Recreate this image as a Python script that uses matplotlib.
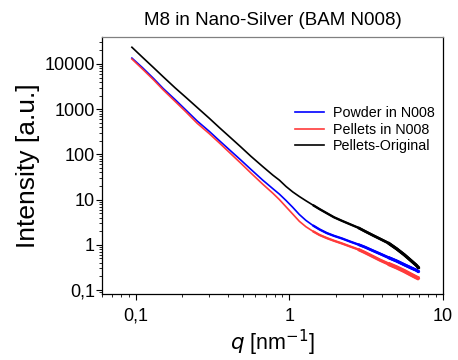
import matplotlib
matplotlib.use("Agg")
import matplotlib.pyplot as plt
from matplotlib.ticker import FixedLocator, LogLocator, NullFormatter

plt.rcParams['font.family'] = ['Liberation Sans', 'DejaVu Sans']

# scattering vector q [nm^-1] (same grid for all three curves)
q = [0.094, 0.11, 0.13, 0.15, 0.18, 0.21, 0.25, 0.30, 0.35, 0.41,
     0.48, 0.56, 0.67, 0.78, 0.86, 0.95, 1.05, 1.16, 1.28, 1.42,
     1.57, 1.75, 1.95, 2.2, 2.5, 2.8, 3.1, 3.5, 3.9, 4.4,
     5.0, 5.6, 6.2, 6.7, 7.0]

powder_n008 = [13490, 8318, 4786, 2884, 1622, 977, 550, 324, 200, 123,
               75.9, 46.8, 26.9, 17.4, 13.2, 9.55, 6.76, 4.68, 3.47, 2.69,
               2.19, 1.82, 1.58, 1.38, 1.17, 1.02, 0.891, 0.741, 0.631, 0.525,
               0.437, 0.363, 0.309, 0.275, 0.251]

pellets_n008 = [12880, 7762, 4467, 2692, 1479, 891, 490, 288, 178, 107,
                64.6, 38.9, 21.9, 13.8, 10.0, 6.92, 4.79, 3.31, 2.51, 2.00,
                1.65, 1.41, 1.23, 1.07, 0.912, 0.794, 0.676, 0.550, 0.457, 0.380,
                0.316, 0.263, 0.219, 0.191, 0.178]

pellets_orig = [23440, 14130, 8318, 5248, 2951, 1862, 1096, 631, 389, 240,
                148, 91.2, 53.7, 34.7, 26.9, 19.5, 14.8, 11.7, 9.44, 7.59,
                6.17, 5.01, 4.07, 3.39, 2.82, 2.40, 2.00, 1.62, 1.35, 1.10,
                0.813, 0.603, 0.447, 0.355, 0.302]

y_ticks = [10000, 1000, 100, 10, 1, 0.1]
y_labels = ["10000", "1000", "100", "10", "1", "0,1"]
x_ticks = [0.1, 1, 10]
x_labels = ["0,1", "1", "10"]

fig = plt.figure(figsize=(4.58, 3.6), dpi=100)
ax = fig.add_axes([0.2227, 0.1833, 0.7443, 0.7139])

series = [(powder_n008, '#0000ff', 'Powder in N008'),
          (pellets_n008, '#ff3b3b', 'Pellets in N008'),
          (pellets_orig, 'black', 'Pellets-Original')]

for vals, col, lab in series:
    ax.plot(q, vals, color=col, lw=1.2, label=lab)

# noisier high-q tails drawn a bit heavier
for vals, col, lab in series:
    w = 3.0 if col == '#ff3b3b' else 2.3
    ax.plot(q[19:], vals[19:], color=col, lw=1.7, solid_capstyle='butt')
    ax.plot(q[25:], vals[25:], color=col, lw=(1.7 + w) / 2, solid_capstyle='butt')
    ax.plot(q[29:], vals[29:], color=col, lw=w, solid_capstyle='butt')

ax.set_xscale('log')
ax.set_yscale('log')
ax.set_xlim(0.06, 10)
ax.set_ylim(0.0816, 39500)

ax.xaxis.set_major_locator(FixedLocator(x_ticks))
ax.set_xticklabels(x_labels)
ax.yaxis.set_major_locator(FixedLocator(y_ticks))
ax.set_yticklabels(y_labels)
ax.xaxis.set_minor_locator(LogLocator(base=10, subs=range(2, 10)))
ax.yaxis.set_minor_locator(LogLocator(base=10, subs=range(2, 10)))
ax.xaxis.set_minor_formatter(NullFormatter())
ax.yaxis.set_minor_formatter(NullFormatter())

ax.tick_params(which='major', direction='out', length=4, width=0.8, labelsize=13, pad=1)
ax.tick_params(which='minor', direction='out', length=2, width=0.6)
ax.tick_params(top=False, right=False)
ax.tick_params(axis='x', pad=6)

for s in ax.spines.values():
    s.set_linewidth(0.9)
ax.spines['top'].set_color('#808080')

ax.set_title("M8 in Nano-Silver (BAM N008)", fontsize=13.5, pad=9)
ax.set_ylabel("Intensity [a.u.]", fontsize=19, labelpad=3)
ax.set_xlabel(r"$q$ [nm$^{-1}$]", fontsize=15.5, labelpad=2)

ax.legend(loc='center right', bbox_to_anchor=(1.0, 0.64), frameon=False,
          fontsize=10.3, handlelength=2.0, handletextpad=0.6, labelspacing=0.2,
          borderaxespad=0.2)

fig.savefig("out.png", dpi=100)
